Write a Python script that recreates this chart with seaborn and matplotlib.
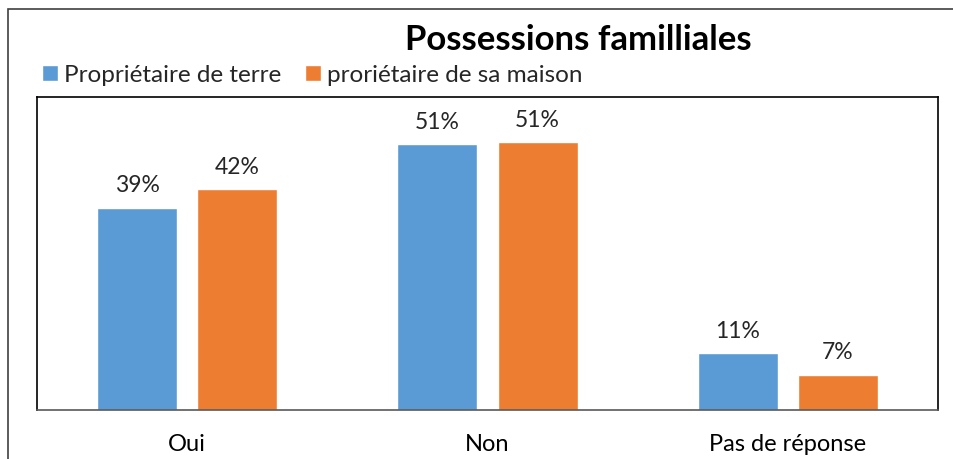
import matplotlib
matplotlib.use("Agg")
import matplotlib.pyplot as plt
from matplotlib.patches import Rectangle
import pandas as pd
import seaborn as sns

categories = ["Oui", "Non", "Pas de réponse"]
series = ["Propriétaire de terre", "proriétaire de sa maison"]
terre = [38.8, 51.0, 11.0]
maison = [42.4, 51.3, 6.8]
colors = ["#5B9BD5", "#ED7D31"]

df = pd.DataFrame({
    "categorie": categories * 2,
    "serie": [series[0]] * 3 + [series[1]] * 3,
    "valeur": terre + maison,
})

sns.set_style("white")
plt.rcParams["font.family"] = ["Lato", "DejaVu Sans"]

fig = plt.figure(figsize=(9.54, 4.59), dpi=100)
ax = fig.add_axes([37 / 954, 49 / 459, 901 / 954, 313 / 459])

sns.barplot(data=df, x="categorie", y="valeur", hue="serie", palette=colors,
            width=0.667, gap=0.2, ax=ax, legend=True, saturation=1)

for cont in ax.containers:
    ax.bar_label(cont, labels=[f"{v:.0f}%" for v in cont.datavalues],
                 padding=8, fontsize=16.5, color="#262626")

ax.set_xlim(-0.5, 2.5)
ax.set_ylim(0, 60)
ax.set_yticks([])
ax.set_xlabel("")
ax.set_ylabel("")
ax.tick_params(axis="x", length=0, labelsize=17, pad=17, colors="#000000")
for s in ["left", "top", "right"]:
    ax.spines[s].set_color("#000000")
    ax.spines[s].set_linewidth(1.2)
ax.spines["bottom"].set_color("#595959")
ax.spines["bottom"].set_linewidth(1.2)

handles, labels = ax.get_legend_handles_labels()
ax.get_legend().remove()
fig.legend(handles, labels, loc="center left", bbox_to_anchor=(42 / 954, 1 - 75 / 459),
           ncol=2, frameon=False, fontsize=17.5, handlelength=0.65, handleheight=0.65,
           handletextpad=0.25, columnspacing=1.0, borderaxespad=0, borderpad=0)

fig.text(578 / 954, 1 - 40 / 459, "Possessions familliales", ha="center", va="center",
         fontsize=25, fontweight="bold", color="#000000")

# outer chart frame, clipped by the image edge
fig.patches.append(Rectangle((8 / 954, -0.1), 1.1, 1.1 - 9 / 459, transform=fig.transFigure,
                             fill=False, edgecolor="#404040", linewidth=1.2))

fig.savefig("out.png", dpi=100)
